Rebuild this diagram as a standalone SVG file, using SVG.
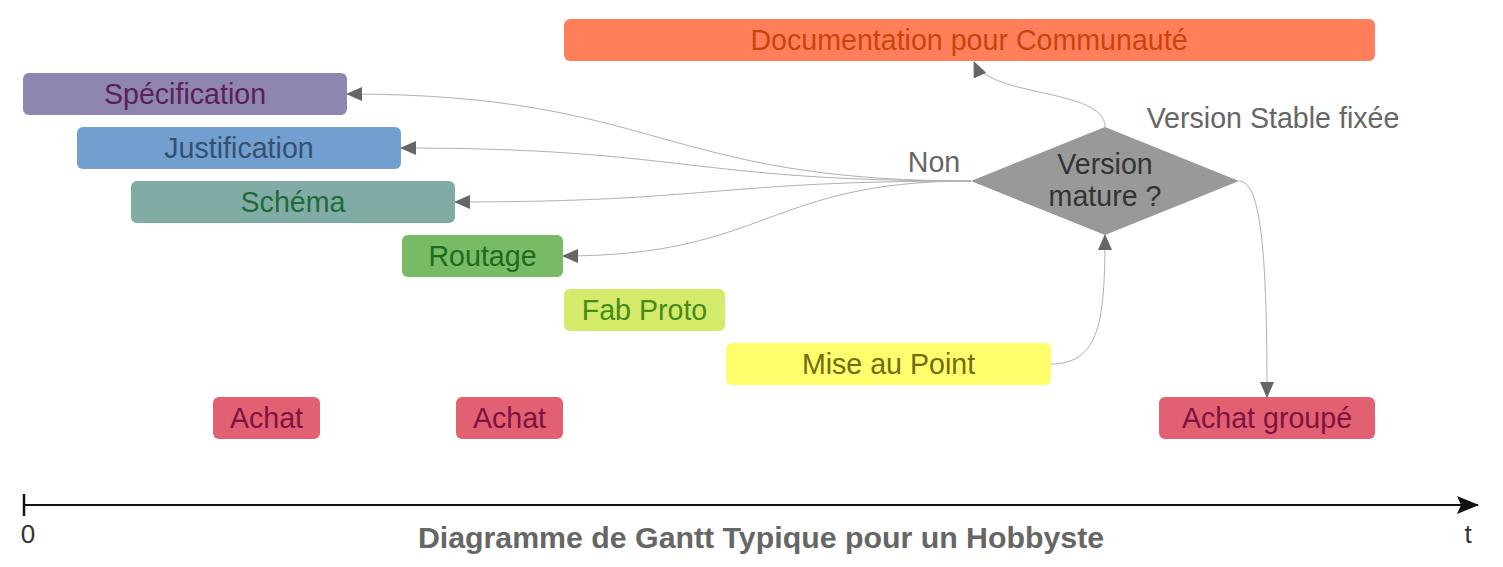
<svg xmlns="http://www.w3.org/2000/svg" width="1503" height="567" viewBox="0 0 1503 567">
<style>
text{font-family:"Liberation Sans",Arial,sans-serif;font-size:28.6px;text-anchor:middle}
.conn{fill:none;stroke:#b0b0b0;stroke-width:1}
.lbl{fill:#666}
</style>
<defs>
<marker id="ah" viewBox="0 0 16 14" refX="15" refY="7" markerWidth="16" markerHeight="14" markerUnits="userSpaceOnUse" orient="auto">
<path d="M0,0 L16,7 L0,14 Z" fill="#666"/>
</marker>
<marker id="axh" viewBox="0 0 22 18" refX="21" refY="9" markerWidth="22" markerHeight="18" markerUnits="userSpaceOnUse" orient="auto">
<path d="M0,0 L22,9 L0,18 L4,9 Z" fill="#111"/>
</marker>
</defs>
<rect width="1503" height="567" fill="#fff"/>

<g id="connectors">
<path class="conn" d="M971,181 C659,181 659,94 347,94" marker-end="url(#ah)"/>
<path class="conn" d="M971,181 C686,181 686,148 401,148" marker-end="url(#ah)"/>
<path class="conn" d="M971,181 C713,181 713,202 455,202" marker-end="url(#ah)"/>
<path class="conn" d="M971,181 C767,181 767,256 563,256" marker-end="url(#ah)"/>
<path class="conn" d="M1105,127 C1105,88 990,98 974,62" marker-end="url(#ah)"/>
<path class="conn" d="M1051,364 C1100,364 1105,320 1105,235" marker-end="url(#ah)"/>
<path class="conn" d="M1239,181 C1262,181 1267,260 1267,397" marker-end="url(#ah)"/>
</g>

<g id="documentation"><rect x="564" y="19" width="811" height="42" rx="6" fill="#ff7f5b"/><text x="969" y="50" fill="#c9440a">Documentation pour Communauté</text></g>
<g id="specification"><rect x="23" y="73" width="324" height="42" rx="6" fill="#8e86ae"/><text x="185" y="104" fill="#5c1f5c">Spécification</text></g>
<g id="justification"><rect x="77" y="127" width="324" height="42" rx="6" fill="#729fcf"/><text x="239" y="158" fill="#355070">Justification</text></g>
<g id="schema"><rect x="131" y="181" width="324" height="42" rx="6" fill="#81aca6"/><text x="293" y="212" fill="#1e6a39">Schéma</text></g>
<g id="routage"><rect x="402" y="235" width="161" height="42" rx="6" fill="#77bc65"/><text x="482.5" y="266" fill="#1e6a1e">Routage</text></g>
<g id="fabproto"><rect x="564" y="289" width="161" height="42" rx="6" fill="#d4ea6b"/><text x="644.5" y="320" fill="#468a1a">Fab Proto</text></g>
<g id="miseaupoint"><rect x="726" y="343" width="325" height="42" rx="6" fill="#ffff6d"/><text x="888.5" y="374" fill="#706e0c">Mise au Point</text></g>
<g id="achat1"><rect x="213" y="397" width="107" height="42" rx="6" fill="#e16173"/><text x="266.5" y="428" fill="#7f1241">Achat</text></g>
<g id="achat2"><rect x="456" y="397" width="107" height="42" rx="6" fill="#e16173"/><text x="509.5" y="428" fill="#7f1241">Achat</text></g>
<g id="achatgroupe"><rect x="1159" y="397" width="216" height="42" rx="6" fill="#e16173"/><text x="1267" y="428" fill="#7f1241">Achat groupé</text></g>
<g id="decision"><path d="M971,181 L1105,127 L1239,181 L1105,235 Z" fill="#999"/><text x="1105" y="174" fill="#333">Version</text><text x="1105" y="206" fill="#333">mature ?</text></g>

<g id="labels">
<text class="lbl" x="934" y="172">Non</text>
<text class="lbl" x="1273" y="128">Version Stable fixée</text>
</g>

<g id="axis">
<line x1="24" y1="505" x2="1478" y2="505" stroke="#111" stroke-width="2" marker-end="url(#axh)"/>
<line x1="24" y1="494" x2="24" y2="516" stroke="#111" stroke-width="2.5"/>
<text x="28" y="543" fill="#333" style="font-size:26px">0</text>
<text x="1468" y="543" fill="#333" style="font-size:26px">t</text>
<text x="761" y="548" fill="#666" style="font-size:30.3px;font-weight:bold">Diagramme de Gantt Typique pour un Hobbyste</text>
</g>
</svg>
